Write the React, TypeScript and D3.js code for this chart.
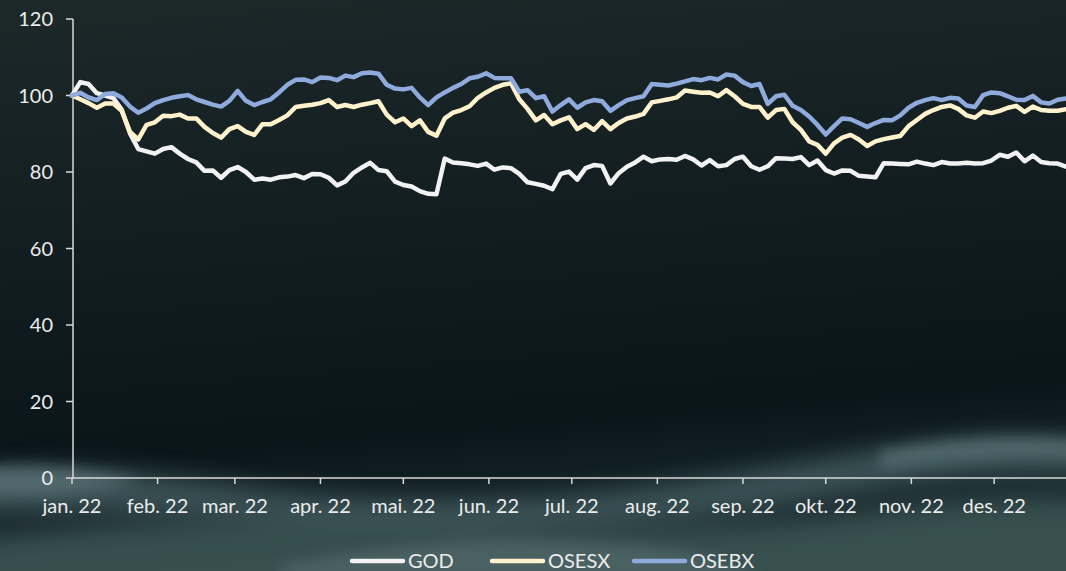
import React from "react";
import * as d3 from "d3";

// ---- data (sampled every 3 calendar days from 1 Jan 2022, indexed to 100) ----
const START_DATE = new Date(2022, 0, 1);
const STEP_DAYS = 3;

const GOD = [
  100, 103.5, 103.0, 100.6, 100.0, 99.3, 96.3, 90.1, 86.0, 85.4,
  84.8, 86.0, 86.5, 84.8, 83.4, 82.5, 80.3, 80.4, 78.5, 80.5,
  81.3, 80.0, 78.0, 78.3, 78.0, 78.6, 78.8, 79.2, 78.4, 79.5,
  79.4, 78.5, 76.5, 77.5, 79.8, 81.2, 82.4, 80.5, 80.2, 77.5,
  76.6, 76.2, 75.0, 74.3, 74.2, 83.5, 82.5, 82.3, 82.0, 81.6,
  82.2, 80.6, 81.2, 81.0, 79.5, 77.3, 76.9, 76.4, 75.5, 79.5,
  80.1, 78.0, 81.0, 81.8, 81.6, 77.0, 79.7, 81.4, 82.5, 84.0,
  82.8, 83.3, 83.4, 83.2, 84.2, 83.3, 81.7, 83.1, 81.5, 81.8,
  83.4, 84.0, 81.5, 80.6, 81.5, 83.6, 83.5, 83.4, 83.9, 81.8,
  83.0, 80.5, 79.6, 80.4, 80.3, 79.0, 78.8, 78.6, 82.3, 82.2,
  82.1, 82.0, 82.7, 82.2, 81.8, 82.6, 82.2, 82.2, 82.4, 82.2,
  82.3, 83.0, 84.5, 84.0, 85.1, 82.8, 84.3, 82.6, 82.3, 82.2,
  81.4,
];

const OSESX = [
  100, 99.0, 98.0, 96.8, 97.9, 97.9, 96.0, 90.5, 88.5, 92.3,
  93.0, 94.7, 94.6, 95.0, 94.0, 94.0, 91.8, 90.2, 89.0, 91.2,
  92.0, 90.5, 89.7, 92.5, 92.5, 93.6, 94.8, 97.0, 97.3, 97.6,
  98.0, 98.8, 97.0, 97.5, 97.0, 97.6, 98.0, 98.5, 95.0, 93.0,
  94.0, 92.0, 93.5, 90.5, 89.5, 94.0, 95.5, 96.2, 97.2, 99.4,
  100.8, 102.0, 102.8, 103.2, 99.0, 96.5, 93.5, 94.9, 92.5, 93.5,
  94.3, 91.2, 92.5, 91.0, 93.3, 91.2, 92.8, 94.0, 94.5, 95.2,
  98.2, 98.6, 99.0, 99.5, 101.3, 101.0, 100.7, 100.8, 99.8, 101.4,
  99.8, 97.8, 97.0, 97.0, 94.2, 96.2, 96.5, 93.0, 91.0, 88.0,
  87.1, 84.8, 87.5, 89.0, 89.7, 88.5, 86.8, 88.0, 88.6, 89.0,
  89.4, 92.0, 93.6, 95.2, 96.2, 97.0, 97.4, 96.5, 94.8, 94.2,
  95.8, 95.4, 96.0, 96.8, 97.3, 95.7, 97.1, 96.2, 96.0, 96.0,
  96.4,
];

const OSEBX = [
  100, 100.7, 99.5, 98.8, 100.4, 100.6, 99.5, 97.1, 95.5, 96.6,
  98.0, 98.8, 99.4, 99.8, 100.1, 99.0, 98.3, 97.6, 97.1, 98.6,
  101.2, 98.6, 97.5, 98.3, 99.0, 100.8, 102.8, 104.1, 104.2, 103.5,
  104.7, 104.6, 104.0, 105.2, 104.8, 105.8, 106.0, 105.7, 102.8, 101.8,
  101.6, 102.0, 99.5, 97.5, 99.5, 100.8, 102.0, 103.0, 104.5, 104.9,
  105.8, 104.6, 104.5, 104.5, 101.0, 101.4, 99.3, 99.8, 95.8, 97.5,
  99.0, 96.8, 98.2, 98.8, 98.5, 96.0, 97.5, 98.8, 99.3, 99.8,
  103.0, 102.8, 102.6, 103.1, 103.7, 104.3, 104.0, 104.6, 104.2, 105.5,
  105.2, 103.5, 102.5, 103.0, 97.8, 99.8, 100.2, 97.3, 96.2, 94.5,
  92.3, 89.8, 92.0, 94.0, 93.8, 92.8, 91.8, 92.8, 93.6, 93.5,
  94.8, 96.8, 98.1, 98.8, 99.3, 98.8, 99.4, 99.2, 97.4, 97.0,
  100.1, 100.8, 100.6, 99.8, 98.9, 98.8, 99.9, 98.2, 97.9, 98.9,
  99.2,
];

const SERIES_NAMES = ["GOD", "OSESX", "OSEBX"];
const SERIES_VALUES = [GOD, OSESX, OSEBX];
const SERIES_COLORS = ["#f2f2f2", "#fff2cc", "#8faadc"];

const MONTH_LABELS = [
  "jan. 22", "feb. 22", "mar. 22", "apr. 22", "mai. 22", "jun. 22",
  "jul. 22", "aug. 22", "sep. 22", "okt. 22", "nov. 22", "des. 22",
];
const Y_TICKS = [0, 20, 40, 60, 80, 100, 120];

// ---- layout ----
const W = 1066;
const H = 571;
const X0 = 72;
const Y_TOP = 19;
const Y_BOT = 478;
const FONT = "Lato, 'Open Sans', sans-serif";
const AXIS_COLOR = "#d9d9d9";
const TEXT_COLOR = "#ececec";

export default function App() {
  const dates = d3.range(GOD.length).map((i) => d3.timeDay.offset(START_DATE, i * STEP_DAYS));
  const x = d3
    .scaleTime()
    .domain([new Date(2022, 0, 1), new Date(2022, 11, 31)])
    .range([X0, X0 + 364 * 2.761]);
  const y = d3.scaleLinear().domain([0, 120]).range([Y_BOT, Y_TOP]);
  const monthTicks = d3.range(12).map((m) => new Date(2022, m, 1));

  const line = d3
    .line<number>()
    .x((_, i) => x(dates[i]))
    .y((v) => y(v));

  const legendItems = [
    { sx: 350, name: SERIES_NAMES[0], color: SERIES_COLORS[0] },
    { sx: 490, name: SERIES_NAMES[1], color: SERIES_COLORS[1] },
    { sx: 632, name: SERIES_NAMES[2], color: SERIES_COLORS[2] },
  ];

  return (
    <svg
      width={W}
      height={H}
      viewBox={`0 0 ${W} ${H}`}
      style={{ position: "fixed", left: 0, top: 0, display: "block" }}
    >
      <defs>
        <linearGradient id="bg" x1="0" y1="0" x2="0.15" y2="1">
          <stop offset="0%" stopColor="#1d2829" />
          <stop offset="45%" stopColor="#121d21" />
          <stop offset="80%" stopColor="#0a151a" />
          <stop offset="100%" stopColor="#1a2b2f" />
        </linearGradient>
        <filter id="blur" x="-20%" y="-50%" width="140%" height="200%">
          <feGaussianBlur stdDeviation="12" />
        </filter>
        <filter id="blur2" x="-20%" y="-50%" width="140%" height="200%">
          <feGaussianBlur stdDeviation="7" />
        </filter>
      </defs>
      <rect x={0} y={0} width={W} height={H} fill="url(#bg)" />
      {/* background waves */}
      <g filter="url(#blur)" opacity={0.9}>
        <path
          d="M-40,474 C60,460 150,474 260,488 C380,504 520,502 640,488 C760,472 880,446 980,438 C1030,435 1080,440 1110,444 L1110,474 C1000,466 900,482 780,504 C660,524 520,532 380,524 C240,516 120,509 -40,514 Z"
          fill="#41595c"
        />
        <path
          d="M-40,540 C100,524 260,514 420,524 C560,534 720,534 860,514 C960,500 1040,496 1110,500 L1110,600 L-40,600 Z"
          fill="#3a5253"
        />
      </g>
      <g filter="url(#blur2)" opacity={0.7}>
        <path
          d="M-20,468 C40,462 90,470 140,480 C100,492 40,498 -20,494 Z"
          fill="#5d7679"
        />
        <path
          d="M880,452 C940,440 1000,436 1080,440 L1080,458 C1000,454 940,460 880,468 Z"
          fill="#5d7679"
        />
        <path
          d="M280,566 C400,540 520,536 640,546 C700,552 740,564 760,580 L280,580 Z"
          fill="#52696c"
        />
      </g>

      {/* axes */}
      <line x1={X0 + 1} x2={X0 + 1} y1={Y_TOP} y2={Y_BOT} stroke={AXIS_COLOR} strokeWidth={1.5} />
      <line x1={X0 + 1} x2={W} y1={Y_BOT} y2={Y_BOT} stroke={AXIS_COLOR} strokeWidth={1.5} />
      {Y_TICKS.map((t) => (
        <g key={t}>
          <line x1={X0 - 6} x2={X0 + 1} y1={y(t)} y2={y(t)} stroke={AXIS_COLOR} strokeWidth={1.5} />
          <text
            x={X0 - 19}
            y={y(t)}
            dy="0.36em"
            textAnchor="end"
            fill={TEXT_COLOR}
            fontFamily={FONT}
            fontSize={20}
          >
            {t}
          </text>
        </g>
      ))}
      {monthTicks.map((d, i) => (
        <g key={i}>
          <line x1={x(d)} x2={x(d)} y1={Y_BOT} y2={Y_BOT + 6} stroke={AXIS_COLOR} strokeWidth={1.5} />
          <text
            x={x(d)}
            y={513}
            textAnchor="middle"
            fill={TEXT_COLOR}
            fontFamily={FONT}
            fontSize={20}
          >
            {MONTH_LABELS[i]}
          </text>
        </g>
      ))}

      {/* series */}
      {SERIES_VALUES.map((vals, k) => (
        <path
          key={SERIES_NAMES[k]}
          d={line(vals) || ""}
          fill="none"
          stroke={SERIES_COLORS[k]}
          strokeWidth={4.5}
          strokeLinejoin="round"
          strokeLinecap="round"
        />
      ))}

      {/* legend */}
      {legendItems.map((it) => (
        <g key={it.name}>
          <line
            x1={it.sx + 2}
            x2={it.sx + 53}
            y1={561}
            y2={561}
            stroke={it.color}
            strokeWidth={4.5}
            strokeLinecap="round"
          />
          <text x={it.sx + 58} y={568} fill={TEXT_COLOR} fontFamily={FONT} fontSize={20}>
            {it.name}
          </text>
        </g>
      ))}
    </svg>
  );
}
